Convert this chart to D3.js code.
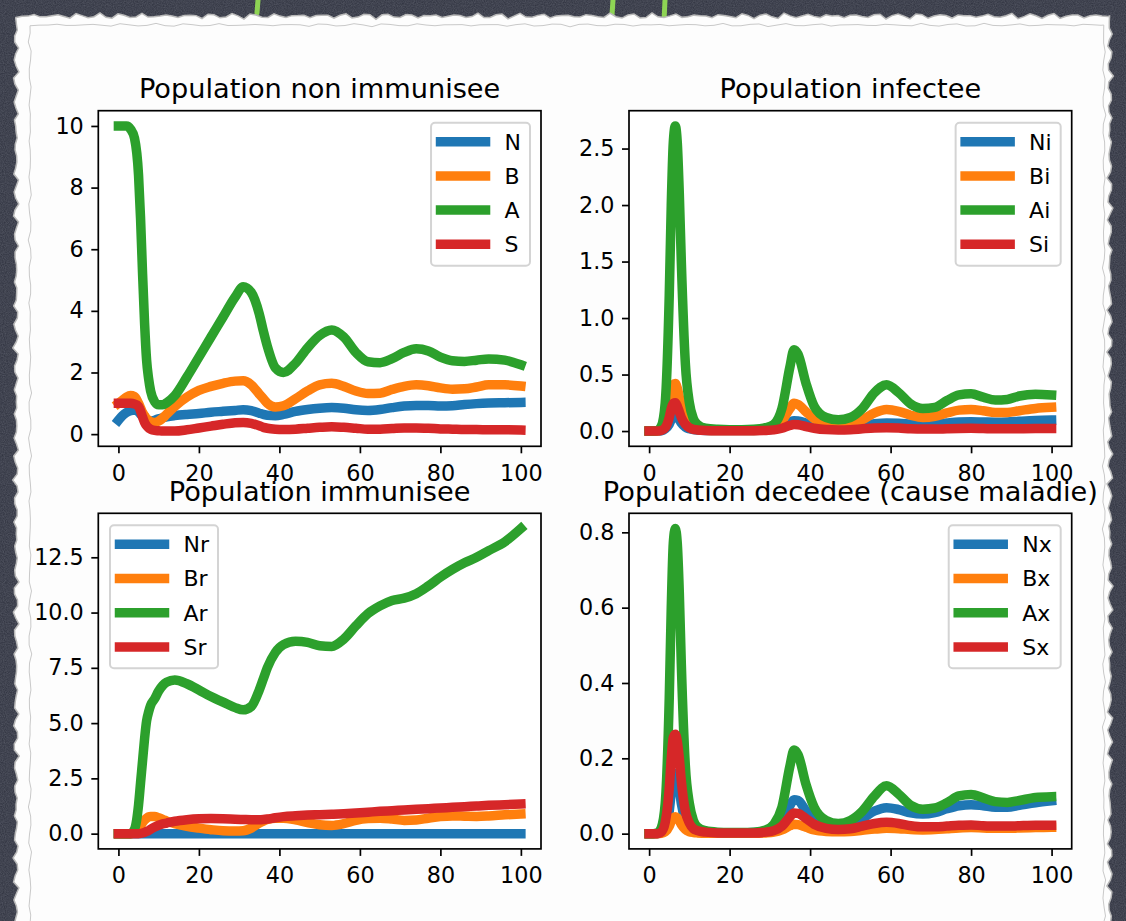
<!DOCTYPE html>
<meta charset="utf-8">
<style>
body { margin: 0; background: #2e313c; }
svg { display: block; }
text { font-family: "DejaVu Sans", sans-serif; fill: #000; }
.tick text { font-size: 22.3px; }
.title { font-size: 27.2px; text-anchor: middle; }
.legend text { font-size: 22px; }
</style>
<svg width="1126" height="921"></svg>
<script src="https://d3js.org/d3.v7.min.js"></script>
<script>

// time grid (days) shared by every series
const days = [0,1,2,3,4,5,5.5,6,6.5,7,7.5,8,9,10,11,12,14,17,20,23,26,29,31,33,35,36,37,39,41,44,47,50,53,56,59,62,65,68,71,74,77,80,83,86,89,92,96,100];

// population non immunisee
const N = [0.45,0.6,0.7,0.76,0.78,0.72,0.65,0.57,0.5,0.45,0.42,0.42,0.45,0.5,0.53,0.56,0.6,0.64,0.67,0.71,0.74,0.77,0.79,0.76,0.68,0.64,0.61,0.6,0.64,0.74,0.8,0.84,0.86,0.84,0.79,0.77,0.8,0.86,0.91,0.93,0.93,0.91,0.92,0.96,0.99,1.01,1.02,1.03];
const B = [1.0,1.1,1.2,1.25,1.22,1.0,0.85,0.7,0.6,0.5,0.45,0.4,0.38,0.42,0.52,0.65,0.9,1.2,1.42,1.55,1.65,1.72,1.73,1.6,1.3,1.15,1.0,0.88,0.92,1.15,1.4,1.6,1.65,1.55,1.4,1.32,1.33,1.45,1.55,1.6,1.57,1.5,1.46,1.47,1.53,1.6,1.6,1.56];
const A = [10,10,10,9.9,9.6,8.4,7.0,5.2,3.6,2.4,1.8,1.4,1.05,0.95,0.95,1.02,1.25,1.85,2.5,3.15,3.8,4.45,4.78,4.6,3.9,3.35,2.85,2.15,2.0,2.3,2.8,3.2,3.38,3.15,2.65,2.35,2.32,2.45,2.65,2.77,2.7,2.5,2.38,2.36,2.4,2.44,2.4,2.25];
const S = [1.0,1.0,1.0,1.0,0.98,0.9,0.75,0.55,0.38,0.27,0.2,0.16,0.12,0.11,0.1,0.1,0.1,0.14,0.2,0.26,0.32,0.37,0.38,0.35,0.27,0.22,0.19,0.16,0.15,0.16,0.19,0.22,0.24,0.22,0.19,0.16,0.16,0.18,0.2,0.2,0.19,0.17,0.16,0.15,0.15,0.14,0.14,0.13];

// population infectee
const Ni = [0,0,0,0.003,0.02,0.06,0.1,0.125,0.13,0.12,0.1,0.07,0.035,0.02,0.012,0.008,0.005,0.004,0.004,0.004,0.005,0.01,0.02,0.045,0.08,0.092,0.09,0.07,0.05,0.035,0.03,0.035,0.05,0.065,0.072,0.07,0.062,0.058,0.062,0.072,0.08,0.082,0.08,0.078,0.08,0.086,0.093,0.097];
const Bi = [0,0,0,0.01,0.05,0.2,0.32,0.41,0.42,0.38,0.3,0.22,0.1,0.05,0.025,0.015,0.008,0.005,0.004,0.004,0.005,0.01,0.03,0.09,0.2,0.245,0.235,0.17,0.11,0.06,0.045,0.06,0.1,0.16,0.19,0.175,0.14,0.12,0.13,0.16,0.185,0.19,0.18,0.165,0.165,0.18,0.2,0.21];
const Ai = [0,0,0.005,0.04,0.25,1.2,2.0,2.55,2.7,2.55,2.1,1.5,0.6,0.25,0.11,0.06,0.025,0.015,0.012,0.012,0.015,0.03,0.06,0.2,0.57,0.72,0.68,0.42,0.22,0.12,0.1,0.12,0.2,0.34,0.41,0.34,0.24,0.2,0.21,0.27,0.32,0.33,0.3,0.275,0.28,0.31,0.325,0.32];
const Si = [0,0,0,0.005,0.03,0.12,0.2,0.245,0.25,0.22,0.17,0.12,0.06,0.03,0.015,0.01,0.005,0.003,0.003,0.003,0.003,0.005,0.01,0.025,0.05,0.058,0.055,0.04,0.025,0.013,0.01,0.012,0.02,0.027,0.03,0.027,0.02,0.017,0.017,0.02,0.023,0.024,0.022,0.02,0.02,0.021,0.022,0.022];

// population immunisee
const Nr = [0,0,0,0,0,0,0,0,0,0,0,0,0,0,0,0,0,0,0,0,0,0,0,0,0,0,0,0,0,0,0,0,0,0,0,0,0,0,0,0,0,0,0,0,0,0,0,0];
const Br = [0,0,0,0,0.05,0.2,0.35,0.5,0.62,0.7,0.76,0.78,0.78,0.72,0.65,0.57,0.45,0.33,0.25,0.18,0.13,0.12,0.13,0.25,0.48,0.57,0.64,0.7,0.7,0.62,0.5,0.4,0.37,0.45,0.6,0.68,0.7,0.66,0.6,0.62,0.7,0.77,0.8,0.79,0.78,0.8,0.85,0.89];
const Ar = [0,0,0,0,0.2,1.3,2.3,3.3,4.3,5.1,5.5,5.8,6.1,6.45,6.7,6.85,6.95,6.78,6.5,6.2,5.95,5.7,5.6,5.75,6.5,7.0,7.5,8.2,8.55,8.7,8.65,8.5,8.47,8.8,9.4,9.95,10.3,10.55,10.65,10.85,11.2,11.6,11.95,12.25,12.5,12.8,13.2,13.8];
const Sr = [0,0,0,0,0,0,0.01,0.03,0.06,0.1,0.14,0.2,0.3,0.38,0.44,0.48,0.56,0.63,0.67,0.68,0.67,0.65,0.64,0.63,0.63,0.64,0.66,0.72,0.77,0.81,0.84,0.86,0.88,0.9,0.93,0.97,1.01,1.04,1.07,1.1,1.13,1.16,1.19,1.22,1.25,1.28,1.31,1.34];

// population decedee (cause maladie)
const Nx = [0,0,0,0.002,0.01,0.06,0.11,0.15,0.16,0.15,0.12,0.08,0.035,0.016,0.008,0.005,0.003,0.002,0.002,0.002,0.003,0.006,0.013,0.035,0.075,0.09,0.088,0.06,0.038,0.024,0.02,0.025,0.04,0.06,0.069,0.064,0.055,0.052,0.056,0.066,0.074,0.077,0.074,0.07,0.07,0.075,0.082,0.087];
const Bx = [0,0,0,0.001,0.005,0.02,0.033,0.042,0.045,0.042,0.034,0.024,0.011,0.005,0.003,0.002,0.001,0.001,0.001,0.001,0.001,0.002,0.004,0.01,0.021,0.025,0.024,0.017,0.01,0.006,0.005,0.006,0.009,0.012,0.014,0.013,0.011,0.01,0.011,0.013,0.015,0.016,0.015,0.014,0.014,0.015,0.016,0.017];
const Ax = [0,0,0.002,0.015,0.08,0.36,0.6,0.77,0.81,0.77,0.64,0.45,0.18,0.08,0.035,0.018,0.008,0.004,0.003,0.003,0.004,0.01,0.025,0.07,0.18,0.222,0.21,0.13,0.07,0.035,0.027,0.035,0.06,0.1,0.127,0.105,0.075,0.065,0.068,0.082,0.1,0.104,0.095,0.085,0.083,0.088,0.096,0.098];
const Sx = [0,0,0,0.004,0.03,0.12,0.2,0.255,0.264,0.245,0.2,0.14,0.06,0.028,0.013,0.008,0.004,0.002,0.002,0.002,0.002,0.004,0.008,0.02,0.045,0.055,0.054,0.04,0.025,0.014,0.011,0.013,0.02,0.027,0.03,0.027,0.021,0.018,0.018,0.02,0.022,0.023,0.021,0.02,0.02,0.021,0.022,0.022];

const colors = ['#1f77b4', '#ff7f0e', '#2ca02c', '#d62728'];
const xTicks = [0, 20, 40, 60, 80, 100];

const panels = [
  { title: 'Population non immunisee', labels: ['N', 'B', 'A', 'S'], series: [N, B, A, S],
    yTicks: [0, 2, 4, 6, 8, 10], fmt: d3.format('d'), legend: 'right', col: 0, row: 0 },
  { title: 'Population infectee', labels: ['Ni', 'Bi', 'Ai', 'Si'], series: [Ni, Bi, Ai, Si],
    yTicks: [0, 0.5, 1, 1.5, 2, 2.5], fmt: d3.format('.1f'), legend: 'right', col: 1, row: 0 },
  { title: 'Population immunisee', labels: ['Nr', 'Br', 'Ar', 'Sr'], series: [Nr, Br, Ar, Sr],
    yTicks: [0, 2.5, 5, 7.5, 10, 12.5], fmt: d3.format('.1f'), legend: 'left', col: 0, row: 1 },
  { title: 'Population decedee (cause maladie)', labels: ['Nx', 'Bx', 'Ax', 'Sx'], series: [Nx, Bx, Ax, Sx],
    yTicks: [0, 0.2, 0.4, 0.6, 0.8], fmt: d3.format('.1f'), legend: 'right', col: 1, row: 1 }
];

const width = 1126;
const height = 921;
const colX = [98.3, 629];
const rowY = [110.7, 513.3];
const axW = 442.7;
const axH = 335.6;
const LW = 9.5;

const svg = d3.select('svg');
const defs = svg.append('defs');

// chalkboard grain
const grain = defs.append('filter').attr('id', 'grain').attr('x', 0).attr('y', 0).attr('width', '100%').attr('height', '100%');
grain.append('feTurbulence').attr('type', 'fractalNoise').attr('baseFrequency', 0.9).attr('numOctaves', 2).attr('seed', 3);
grain.append('feColorMatrix').attr('type', 'matrix')
  .attr('values', '0 0 0 0 0.75  0 0 0 0 0.78  0 0 0 0 0.85  0 0 0 0.22 0');

svg.append('rect').attr('width', width).attr('height', height).attr('fill', '#2d303d');
svg.append('rect').attr('width', width).attr('height', height).attr('filter', 'url(#grain)');

// green chalk marks above the paper
[[258, 0, 257, 13], [613, 0, 612, 15], [665, 0, 664, 21]].forEach(m => {
  svg.append('line')
    .attr('x1', m[0]).attr('y1', m[1]).attr('x2', m[2]).attr('y2', m[3])
    .attr('stroke', '#8ed454').attr('stroke-width', 5).attr('stroke-linecap', 'round');
});

// torn paper sheet
function wobble(i, a) {
  return a * (Math.sin(i * 1.7) * 0.6 + Math.sin(i * 4.3 + 1) * 0.3 + Math.sin(i * 9.1 + 2) * 0.25);
}
function edgePath(x0, y0, x1, y1, amp, step) {
  const top = [], right = [], left = [];
  for (let x = x0, i = 0; x <= x1; x += step, i++) top.push([x, y0 + wobble(i, amp)]);
  for (let y = y0, i = 50; y <= y1; y += step, i++) right.push([x1 + wobble(i, amp), y]);
  for (let y = y1, i = 200; y >= y0; y -= step, i++) left.push([x0 + wobble(i, amp), y]);
  return d3.line()(top.concat(right, left)) + 'Z';
}
svg.append('path')
  .attr('d', edgePath(16, 16, 1110, 960, 3, 6))
  .attr('fill', '#fdfdfd')
  .attr('stroke', '#b9b9b9')
  .attr('stroke-width', 1.5);
svg.append('path')
  .attr('d', edgePath(30, 25, 1104, 960, 1.6, 9))
  .attr('fill', 'none')
  .attr('stroke', '#c9c9c9')
  .attr('stroke-width', 1);

panels.forEach(p => {
  const x0 = colX[p.col];
  const y0 = rowY[p.row];
  const g = svg.append('g').attr('transform', `translate(${x0},${y0})`);

  const xExt = d3.extent(days);
  const xPad = (xExt[1] - xExt[0]) * 0.05;
  const x = d3.scaleLinear().domain([xExt[0] - xPad, xExt[1] + xPad]).range([0, axW]);

  const yExt = d3.extent(p.series.flat());
  const yPad = (yExt[1] - yExt[0]) * 0.05;
  const y = d3.scaleLinear().domain([yExt[0] - yPad, yExt[1] + yPad]).range([axH, 0]);

  g.append('rect').attr('width', axW).attr('height', axH).attr('fill', '#fff');

  const line = d3.line()
    .x((d, i) => x(days[i]))
    .y(d => y(d))
    .curve(d3.curveMonotoneX);

  p.series.forEach((s, k) => {
    g.append('path')
      .datum(s)
      .attr('d', line)
      .attr('fill', 'none')
      .attr('stroke', colors[k])
      .attr('stroke-width', LW)
      .attr('stroke-linecap', 'square')
      .attr('stroke-linejoin', 'round');
  });

  const xAxis = g.append('g')
    .attr('transform', `translate(0,${axH})`)
    .call(d3.axisBottom(x).tickValues(xTicks).tickSize(7).tickPadding(10).tickFormat(d3.format('d')));
  const yAxis = g.append('g')
    .call(d3.axisLeft(y).tickValues(p.yTicks).tickSize(7).tickPadding(7.5).tickFormat(p.fmt));

  [xAxis, yAxis].forEach(ax => {
    ax.select('.domain').remove();
    ax.selectAll('.tick line').attr('stroke', '#000').attr('stroke-width', 1.7);
    ax.attr('font-family', null).attr('font-size', null);
  });
  xAxis.selectAll('.tick text').attr('dy', null).attr('y', 34.5);

  g.append('rect')
    .attr('width', axW).attr('height', axH)
    .attr('fill', 'none').attr('stroke', '#000').attr('stroke-width', 1.7);

  g.append('text')
    .attr('class', 'title')
    .attr('x', axW / 2)
    .attr('y', -12.5)
    .text(p.title);

  // legend
  const lg = g.append('g').attr('class', 'legend');
  const box = lg.append('rect');
  const labels = p.labels.map((name, k) => {
    const ry = 19 + k * 34.2;
    lg.append('line')
      .attr('x1', 9.5).attr('x2', 54.5).attr('y1', ry).attr('y2', ry)
      .attr('stroke', colors[k]).attr('stroke-width', LW).attr('stroke-linecap', 'square');
    return lg.append('text').attr('x', 73.5).attr('y', ry).attr('dy', '0.36em').text(name);
  });
  const maxW = d3.max(labels, t => t.node().getComputedTextLength());
  const bw = 73.5 + maxW + 9;
  const bh = 143;
  box.attr('width', bw).attr('height', bh).attr('rx', 4)
    .attr('fill', '#fff').attr('fill-opacity', 0.85)
    .attr('stroke', '#d4d4d4').attr('stroke-width', 2);
  const lx = p.legend === 'right' ? axW - 11 - bw : 11.7;
  lg.attr('transform', `translate(${lx},12)`);
});

</script>
